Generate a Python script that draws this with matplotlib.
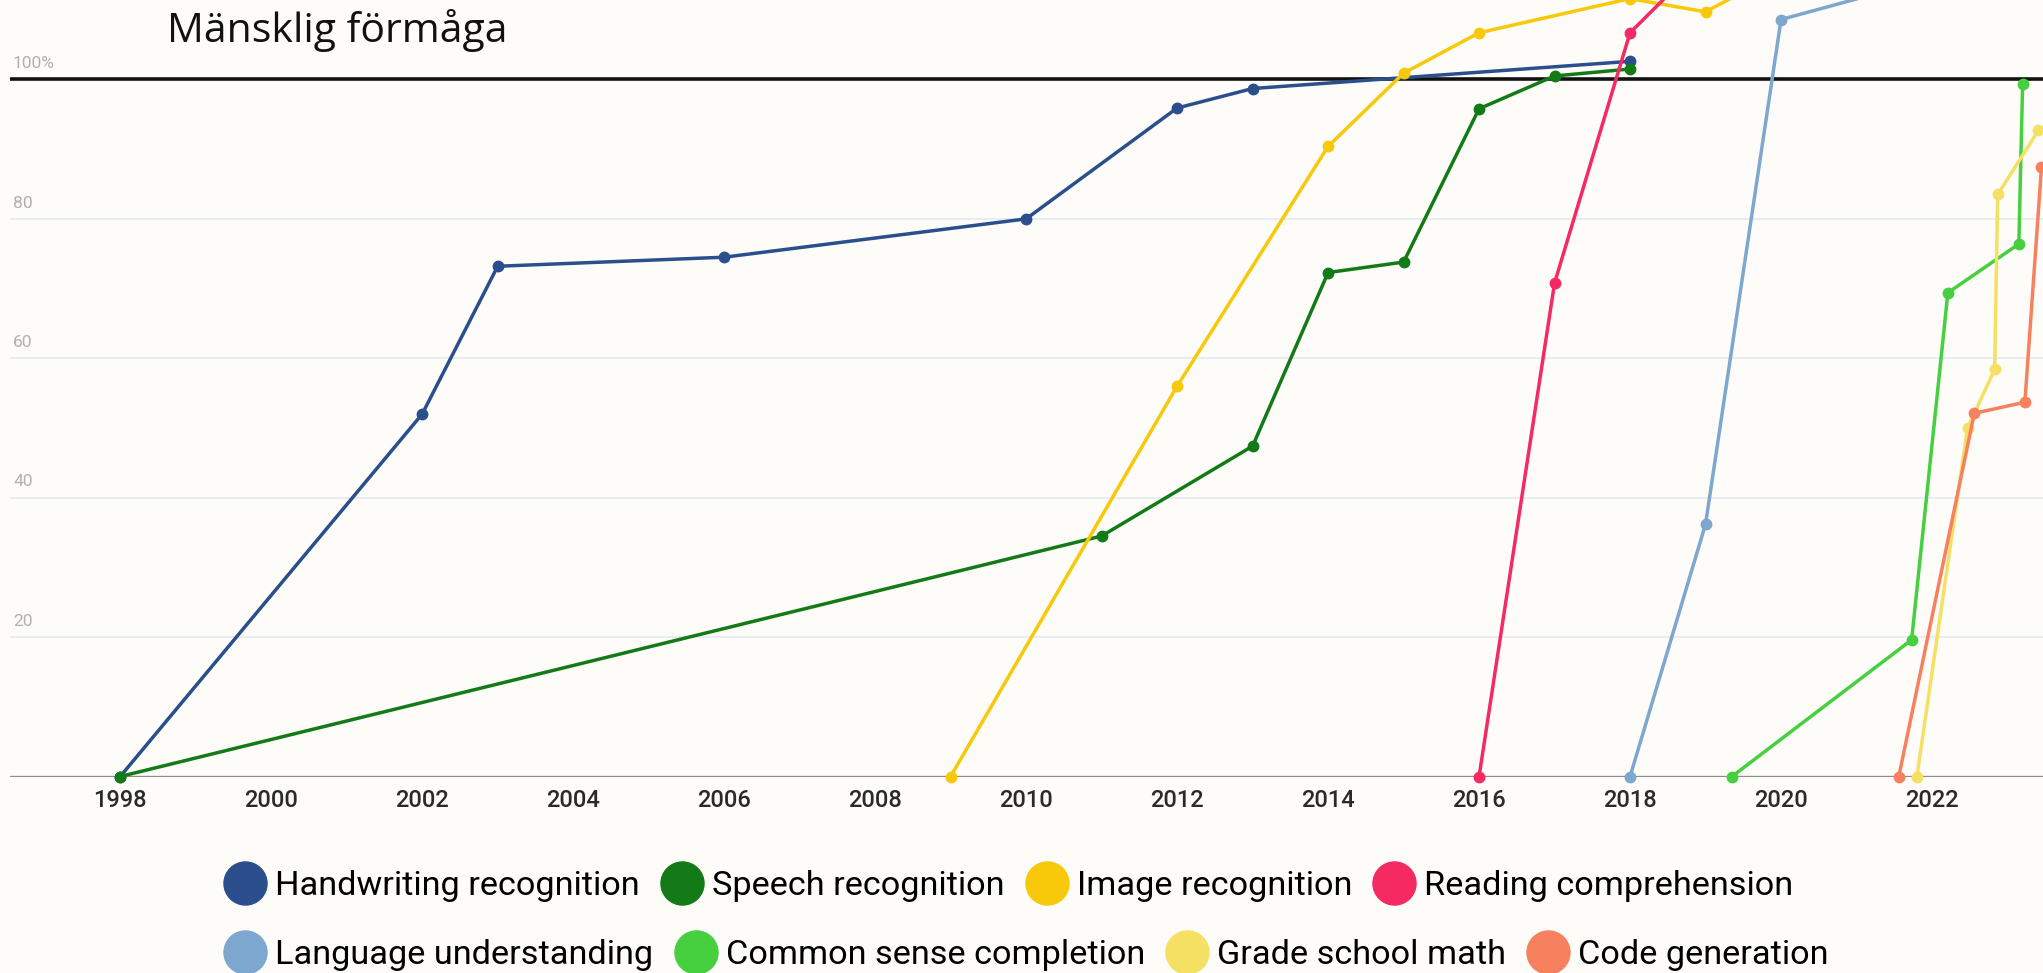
import matplotlib
matplotlib.use("Agg")
import matplotlib.pyplot as plt
from matplotlib.lines import Line2D

# AI benchmark scores relative to human performance (100%)
handwriting_years = [1998, 2002, 2003, 2006, 2010, 2012, 2013, 2018]
handwriting_vals = [0, 52.0, 73.2, 74.5, 80.0, 95.9, 98.7, 102.6]

speech_years = [1998, 2011, 2013, 2014, 2015, 2016, 2017, 2018]
speech_vals = [0, 34.5, 47.4, 72.3, 73.8, 95.8, 100.5, 101.5]

image_years = [2009, 2012, 2014, 2015, 2016, 2018, 2019, 2020]
image_vals = [0, 56.0, 90.4, 100.9, 106.7, 111.6, 109.7, 115.5]

reading_years = [2016, 2017, 2018, 2019]
reading_vals = [0, 70.8, 106.7, 117.5]

language_years = [2018, 2019, 2020, 2022]
language_vals = [0, 36.2, 108.6, 114.5]

common_years = [2019.35, 2021.73, 2022.21, 2023.15, 2023.2]
common_vals = [0, 19.6, 69.4, 76.4, 99.3]

math_years = [2021.80, 2022.47, 2022.83, 2022.87, 2023.41]
math_vals = [0, 50.0, 58.4, 83.5, 92.7]

code_years = [2021.56, 2022.56, 2023.23, 2023.45]
code_vals = [0, 52.1, 53.7, 87.4]

series_names = ["Handwriting recognition", "Speech recognition", "Image recognition",
                "Reading comprehension", "Language understanding", "Common sense completion",
                "Grade school math", "Code generation"]
series_colors = ["#2b4e8c", "#137a17", "#f8c80a", "#f52a62",
                 "#7ea7cf", "#46cf3f", "#f6e064", "#f7815f"]
series_data = [(handwriting_years, handwriting_vals), (speech_years, speech_vals),
               (image_years, image_vals), (reading_years, reading_vals),
               (language_years, language_vals), (common_years, common_vals),
               (math_years, math_vals), (code_years, code_vals)]

xtick_years = list(range(1998, 2023, 2))
grid_levels = [20, 40, 60, 80]
y_labels = ["20", "40", "60", "80", "100%"]
y_label_levels = [20, 40, 60, 80, 100]

bg = "#fdfcf9"
fig = plt.figure(figsize=(20.43, 9.73), dpi=100, facecolor=bg)
ax = fig.add_axes([10 / 2043, 196.5 / 973, 1 - 10 / 2043, 1 - 196.5 / 973])
ax.set_facecolor(bg)
ax.set_xlim(1996.54, 2023.47)
ax.set_ylim(0, 111.4)

for lv in grid_levels:
    ax.axhline(lv, color="#e4ebf3", lw=1.2, zorder=1)
ax.axhline(0, color="#8c8c8c", lw=2.4, zorder=2)
ax.axhline(100, color="#111111", lw=2.6, zorder=2)

for (xs, ys), c in zip(series_data, series_colors):
    ax.plot(xs, ys, color=c, lw=2.5, marker="o", markersize=7.5, zorder=3, clip_on=False)

for lab, lv in zip(y_labels, y_label_levels):
    ax.text(0.0015, lv + 1.2, lab, transform=ax.get_yaxis_transform(),
            ha="left", va="bottom", color="#b0b0b0", fontsize=12.5, family="Roboto")

for s in ax.spines.values():
    s.set_visible(False)
ax.set_yticks([])
ax.set_xticks(xtick_years)
ax.set_xticklabels([str(y) for y in xtick_years])
ax.tick_params(axis="x", length=0, pad=9, labelsize=17, labelcolor="#2a2a2a")
for t in ax.get_xticklabels():
    t.set_family("Roboto")
    t.set_weight("medium")

fig.text(167 / 2043, 1 - 30 / 973, "Mänsklig förmåga", ha="left", va="center",
         fontsize=29.5, family="Open Sans", color="#111111")

handles = [Line2D([], [], ls="none", marker="o", markersize=32, color=c, markeredgewidth=0)
           for c in series_colors]
row_y = [886, 955]
for i in range(2):
    fig.legend(handles[4 * i:4 * i + 4], series_names[4 * i:4 * i + 4],
               loc="center left", bbox_to_anchor=(224 / 2043, 1 - row_y[i] / 973),
               ncol=4, frameon=False, borderpad=0, borderaxespad=0,
               handlelength=1.25, handletextpad=0.25, columnspacing=0.6,
               prop={"family": "Roboto", "size": 24.7})

fig.savefig("out.png", dpi=100, facecolor=bg)
